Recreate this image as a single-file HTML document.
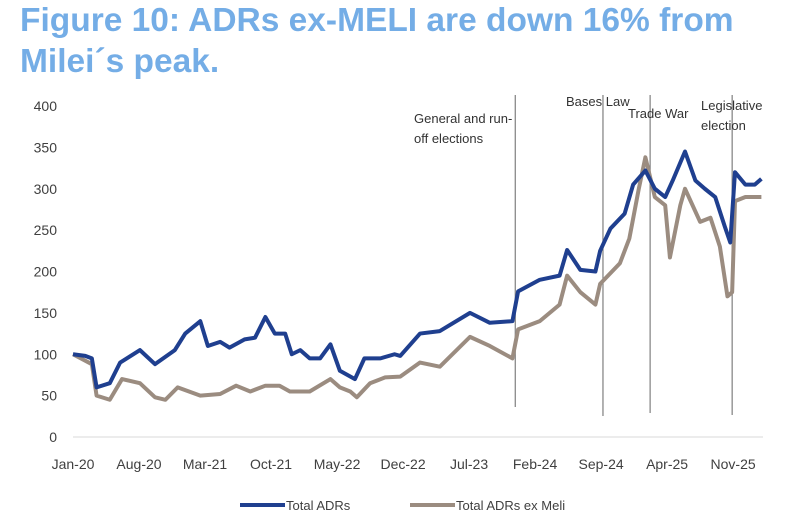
<!DOCTYPE html>
<html><head><meta charset="utf-8"><style>
body{margin:0;background:#fff;width:800px;height:522px;overflow:hidden;font-family:"Liberation Sans",sans-serif}
#title{position:absolute;left:20px;top:0px;font-size:33.5px;font-weight:bold;color:#74ade6;line-height:41px;white-space:nowrap}
</style></head><body>
<div id="title">Figure 10: ADRs ex-MELI are down 16% from<br>Milei´s peak.</div>
<svg id="chart" width="800" height="522" style="position:absolute;left:0;top:0"></svg>
<script>
const yTicks=[0,50,100,150,200,250,300,350,400];
const xLabels=["Jan-20","Aug-20","Mar-21","Oct-21","May-22","Dec-22","Jul-23","Feb-24","Sep-24","Apr-25","Nov-25"];
const blueMonths=[0,1.3,2,2.5,3.9,5,7.1,8.7,10.8,11.9,13.5,14.3,15.6,16.6,18.2,19.3,20.4,21.4,22.5,23.2,24.1,25.1,26.2,27.3,28.3,29.9,30.9,32.6,34.1,34.7,36.8,38.9,42.1,44.2,46.6,47.2,49.5,51.6,52.4,53.8,55.4,55.9,57,58.5,59.4,60.7,61.7,62.8,63.6,64.9,66,67,68.1,69.1,69.7,70.2,71.3,72.3,73];
const blueValues=[100,98,95,60,65,90,105,88,105,125,140,110,115,108,118,120,145,125,125,100,105,95,95,112,80,70,95,95,100,98,125,128,150,138,140,176,190,195,226,202,200,225,252,270,305,322,300,290,310,345,310,300,290,255,235,320,305,305,312];
const greyMonths=[0,2,2.5,3.9,5.2,7.1,8.7,9.8,11.1,13.5,15.6,17.3,18.8,20.4,21.9,23,25.1,27.3,28.3,29.4,30.1,31.5,33.1,34.7,36.8,38.9,42.1,44.2,46.6,47.2,49.5,51.6,52.4,53.8,55.4,55.9,58,59,60,60.7,61.7,62.8,63.3,64.4,64.9,66.5,67.6,68.6,69.4,69.9,70.2,71.3,73];
const greyValues=[100,88,50,45,70,65,48,45,60,50,52,62,55,62,62,55,55,70,60,55,48,65,72,73,90,85,121,110,95,130,140,160,195,175,160,185,210,240,300,338,290,280,217,280,300,260,265,230,170,175,285,290,290];
const events=[{m:46.9,top:95,bot:407,lines:["General and run-","off elections"],tx:414,ty:123},{m:56.2,top:95,bot:416,lines:["Bases Law"],tx:566,ty:106},{m:61.2,top:95,bot:413,lines:["Trade War"],tx:628,ty:118},{m:69.9,top:95,bot:415,lines:["Legislative","election"],tx:701,ty:110}];
const X=m=>73+m*9.43, Y=v=>437-v*0.8275;
const svg=document.getElementById('chart');const NS='http://www.w3.org/2000/svg';
function mk(t,a,txt){const e=document.createElementNS(NS,t);for(const k in a)e.setAttribute(k,a[k]);if(txt!=null)e.textContent=txt;svg.appendChild(e);return e;}
let ax=mk('line',{x1:73,x2:763,y1:437,y2:437,stroke:'#d9d9d9','stroke-width':1});


yTicks.forEach(v=>{const t=mk('text',{x:57,y:Y(v)+5,'text-anchor':'end','font-size':14,fill:'#404040'},v);

});
xLabels.forEach((l,i)=>{const t=mk('text',{x:X(i*7),y:469,'text-anchor':'middle','font-size':14,fill:'#404040'},l);

});
events.forEach(ev=>{const l=mk('line',{x1:X(ev.m),x2:X(ev.m),y1:ev.top,y2:ev.bot,stroke:'#7f7f7f','stroke-width':1.2});


ev.lines.forEach((s,j)=>{const t=mk('text',{x:ev.tx,y:ev.ty+j*20,'font-size':13,fill:'#333'},s);

});});
function series(ms,vs,col,name){const p=mk('polyline',{points:ms.map((m,i)=>X(m)+','+Y(vs[i])).join(' '),fill:'none',stroke:col,'stroke-width':4,'stroke-linejoin':'round'});

}
series(greyMonths,greyValues,'#9b8c80','series-total-adrs-ex-meli');
series(blueMonths,blueValues,'#1f3f8f','series-total-adrs');
[[240,'#1f3f8f','Total ADRs','legend-total-adrs'],[410,'#9b8c80','Total ADRs ex Meli','legend-total-adrs-ex-meli']].forEach(d=>{
const g=mk('line',{x1:d[0],x2:d[0]+45,y1:505,y2:505,stroke:d[1],'stroke-width':4});


const t=mk('text',{x:d[0]+46,y:510,'font-size':13,fill:'#404040'},d[2]);

});
</script>
</body></html>
